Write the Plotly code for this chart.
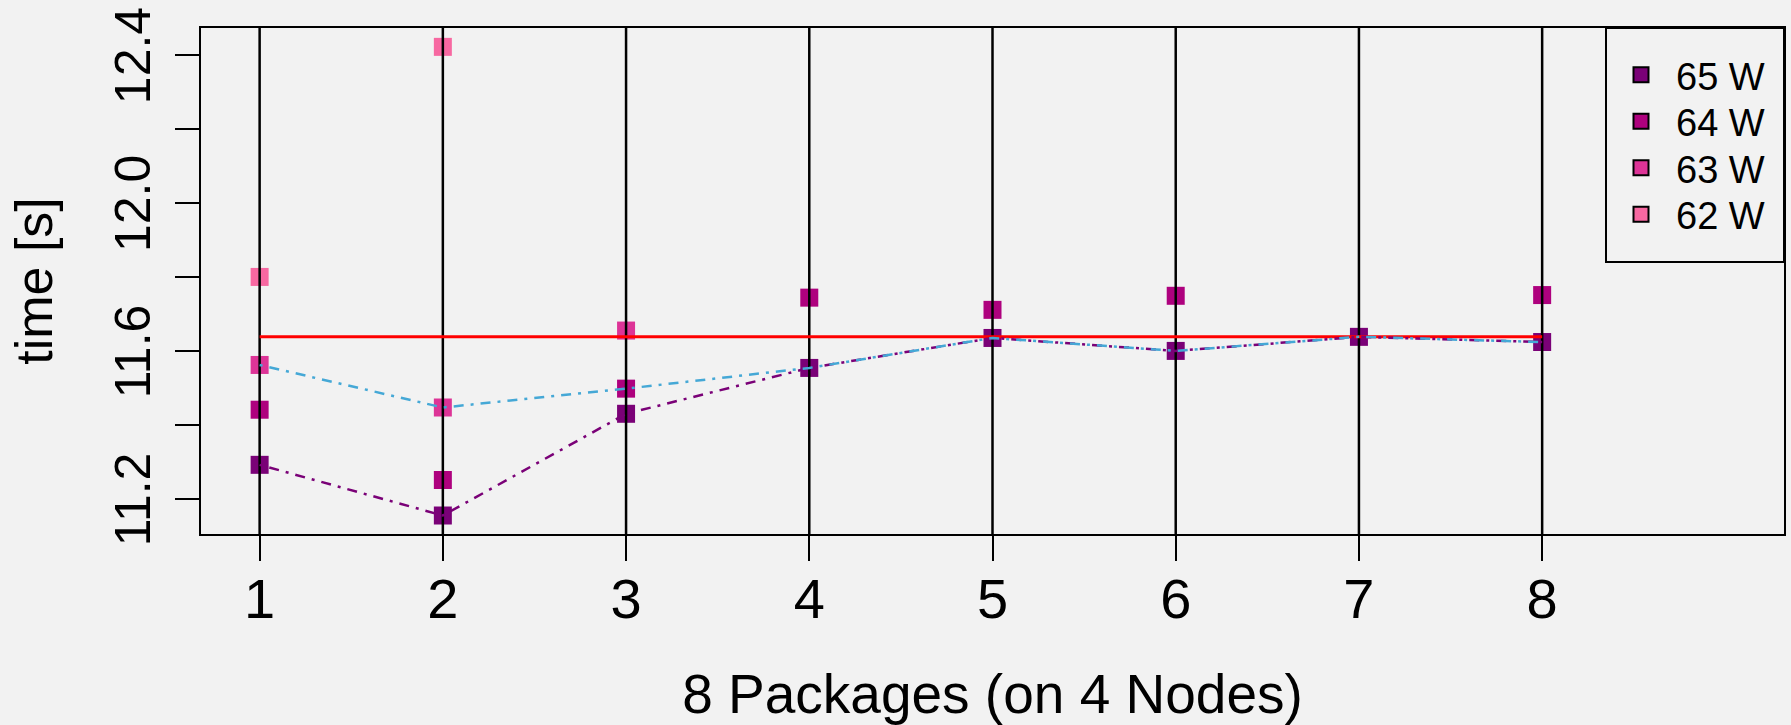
import plotly.graph_objects as go

# Number of packages in use (8 packages spread over 4 nodes)
packages = [1, 2, 3, 4, 5, 6, 7, 8]

# Measured run time [s] per power cap
time_65w = [11.292, 11.155, 11.430, 11.554, 11.635, 11.600, 11.638, 11.624]
time_64w = [11.441, 11.251, 11.498, 11.744, 11.711, 11.749, None, 11.751]
time_63w = [11.562, 11.447, 11.655, None, None, None, None, None]
time_62w = [11.800, 12.422, None, None, None, None, None, None]

# Time achieved with the selected power distribution
time_selected = [11.562, 11.447, 11.498, 11.554, 11.635, 11.600, 11.638, 11.624]

# Reference run time (uncapped)
reference_time = 11.638

series_names = ["65 W", "64 W", "63 W", "62 W"]
series_colors = ["#7A0177", "#AE017E", "#DD3497", "#F768A1"]
series_values = [time_65w, time_64w, time_63w, time_62w]

y_ticks = [11.2, 11.4, 11.6, 11.8, 12.0, 12.2, 12.4]
y_tick_text = ["11.2", "", "11.6", "", "12.0", "", "12.4"]

FONT = "Liberation Sans, Arial, Helvetica, sans-serif"
BG = "#f2f2f2"

fig = go.Figure()

# measured points (filled squares)
for name, color, vals in zip(series_names, series_colors, series_values):
    fig.add_trace(go.Scatter(
        x=packages, y=vals, mode="markers", name=name, showlegend=False,
        marker=dict(symbol="square", size=18, color=color, line=dict(width=0)),
        cliponaxis=False,
    ))

# vertical guide line at every package count
vx, vy = [], []
for p in packages:
    vx += [p, p, None]
    vy += [11.0, 12.6, None]
fig.add_trace(go.Scatter(x=vx, y=vy, mode="lines", showlegend=False,
                         line=dict(color="black", width=2.5), hoverinfo="skip"))

# reference time line
fig.add_trace(go.Scatter(
    x=[packages[0], packages[-1]], y=[reference_time, reference_time],
    mode="lines", showlegend=False, line=dict(color="#FF0000", width=3),
))

# dot-dash connecting lines
fig.add_trace(go.Scatter(
    x=packages, y=time_65w, mode="lines", showlegend=False,
    line=dict(color="#7A0177", width=2.5, dash="3px,7px,10px,7px"),
))
fig.add_trace(go.Scatter(
    x=packages, y=time_selected, mode="lines", showlegend=False,
    line=dict(color="#45A8D6", width=2.5, dash="3px,7px,10px,7px"),
))

W, H = 1791, 725
L, R, T, B = 201, 7, 28, 191
pw, ph = W - L - R, H - T - B

# legend: one row per power cap, each in its own legend so rows are evenly spaced
legend_left = 1606
legend_rows = [75, 121.5, 168, 214.5]
legends = {}
for i, (name, color) in enumerate(zip(series_names, series_colors)):
    key = "legend" if i == 0 else f"legend{i + 1}"
    fig.add_trace(go.Scatter(
        x=[None], y=[None], mode="markers", name=name, legend=key,
        marker=dict(symbol="square", size=15, color=color,
                    line=dict(color="black", width=2)),
    ))
    legends[key] = dict(
        x=(legend_left - L) / pw, xanchor="left",
        y=1 - (legend_rows[i] - T) / ph, yanchor="middle",
        bgcolor="rgba(0,0,0,0)", borderwidth=0,
        font=dict(size=38, family=FONT, color="black"),
        itemsizing="trace", itemwidth=60,
    )

fig.update_layout(
    width=W, height=H,
    margin=dict(l=L, r=R, t=T, b=B, autoexpand=False),
    paper_bgcolor=BG, plot_bgcolor=BG,
    font=dict(family=FONT, color="black"),
    showlegend=True,
    shapes=[dict(
        type="rect", xref="paper", yref="paper",
        x0=(legend_left - L) / pw, x1=1, y0=1 - (262 - T) / ph, y1=1,
        line=dict(color="black", width=2), fillcolor="rgba(0,0,0,0)",
    )],
    **legends,
)

fig.update_xaxes(
    range=[0.68, 9.32], tickvals=packages, ticktext=[str(p) for p in packages],
    ticks="outside", ticklen=25, tickwidth=2, tickcolor="black",
    showline=True, linecolor="black", linewidth=2, mirror=True,
    showgrid=False, zeroline=False,
    tickfont=dict(size=56, family=FONT, color="black"),
    ticklabelstandoff=-10,
    title=dict(text="8 Packages (on 4 Nodes)", font=dict(size=55, family=FONT, color="black"),
               standoff=48),
)
fig.update_yaxes(
    range=[11.105, 12.473], tickvals=y_ticks, ticktext=y_tick_text,
    ticks="outside", ticklen=24, tickwidth=2, tickcolor="black",
    showline=True, linecolor="black", linewidth=2, mirror=True,
    showgrid=False, zeroline=False, tickangle=-90,
    ticklabeloverflow="allow",
    tickfont=dict(size=50, family=FONT, color="black"),
    ticklabelstandoff=5, ticklabelshift=8,
    title=dict(text="time [s]", font=dict(size=52, family=FONT, color="black"),
               standoff=36),
)

fig.write_html("out.html")
